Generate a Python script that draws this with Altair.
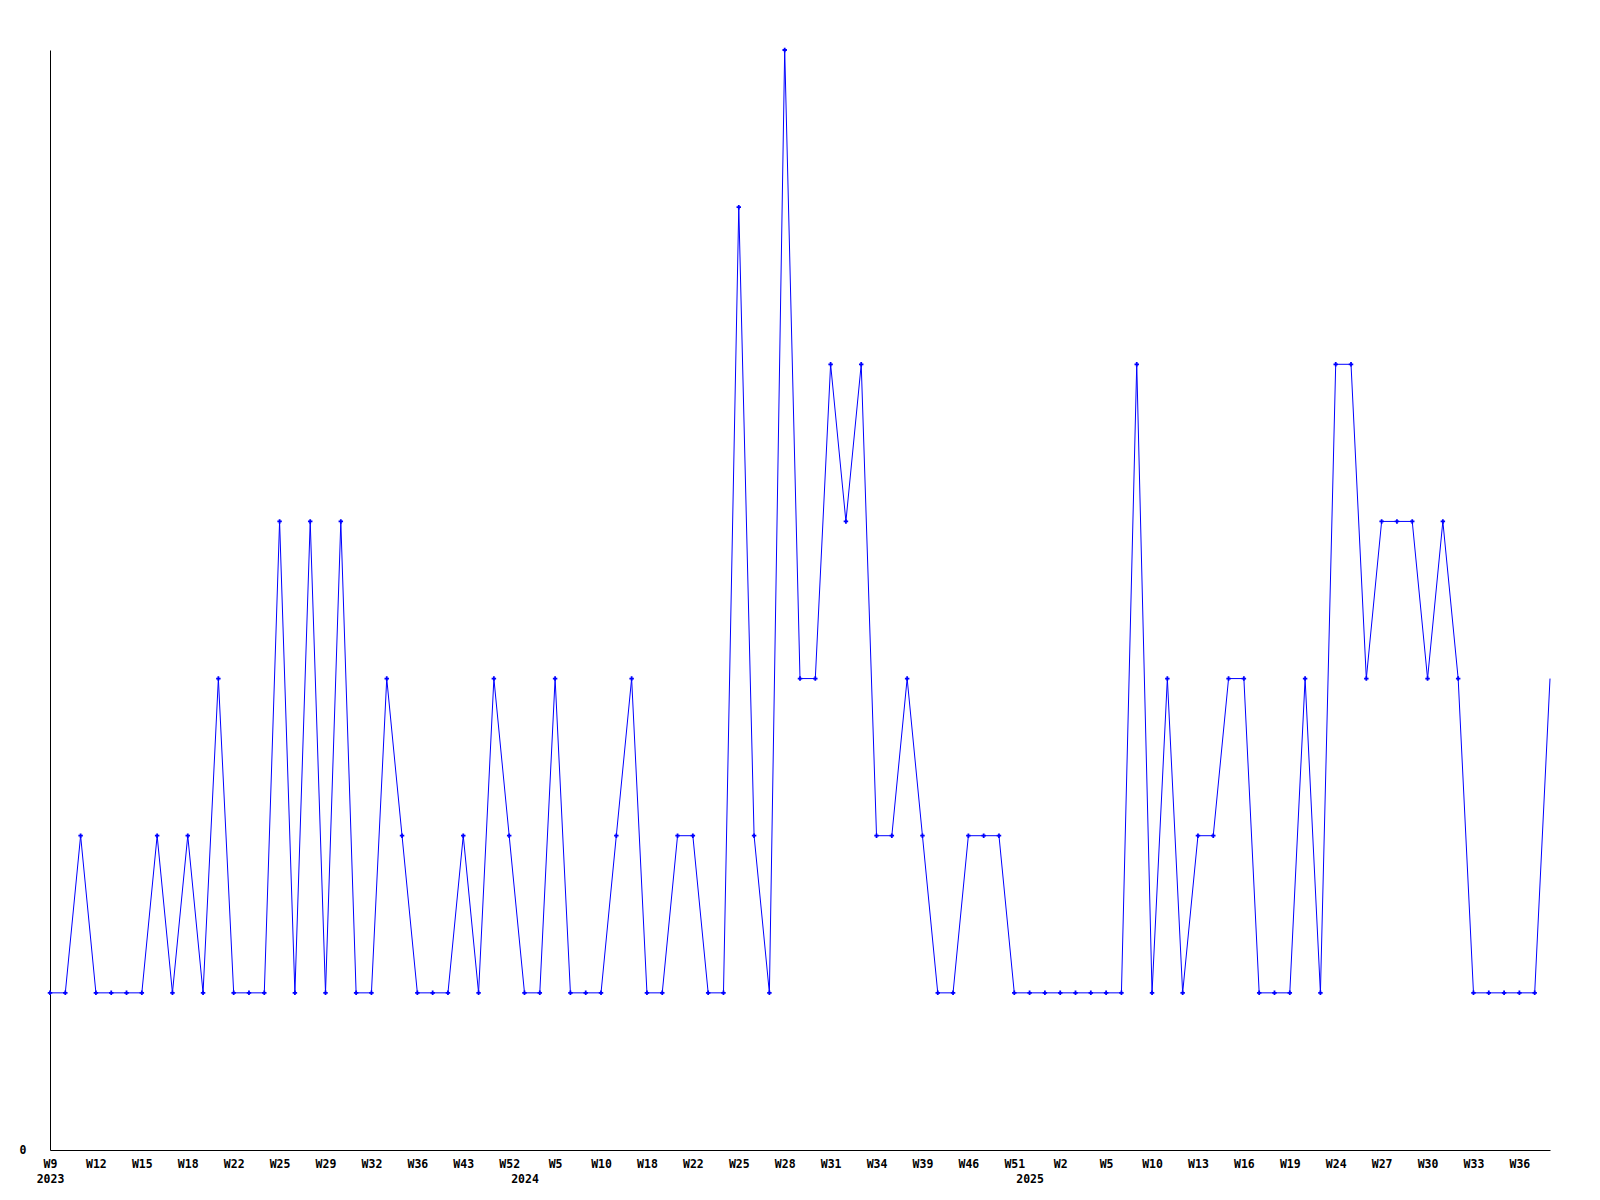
import altair as alt
import pandas as pd

weeks_2023 = ["W9", "W10", "W11", "W12", "W13", "W14", "W15", "W16", "W17", "W18",
              "W20", "W21", "W22", "W23", "W24", "W25", "W27", "W28", "W29", "W30",
              "W31", "W32", "W33", "W35", "W36", "W38", "W40", "W43", "W46", "W49", "W52"]
weeks_2024 = ["W1", "W3", "W5", "W7", "W8", "W10", "W13", "W15", "W18", "W20",
              "W21", "W22", "W23", "W24", "W25", "W26", "W27", "W28", "W29", "W30",
              "W31", "W32", "W33", "W34", "W36", "W37", "W39", "W41", "W43", "W46",
              "W48", "W50", "W51"]
weeks_2025 = ["W0", "W1", "W2", "W3", "W4", "W5", "W7", "W8", "W10", "W11",
              "W12", "W13", "W14", "W15", "W16", "W17", "W18", "W19", "W21", "W22",
              "W24", "W25", "W26", "W27", "W28", "W29", "W30", "W31", "W32", "W33",
              "W34", "W35", "W36", "W37", "W38"]

values = [1, 1, 2, 1, 1, 1, 1, 2, 1, 2,
          1, 3, 1, 1, 1, 4, 1, 4, 1, 4,
          1, 1, 3, 2, 1, 1, 1, 2, 1, 3,
          2, 1, 1, 3, 1, 1, 1, 2, 3, 1,
          1, 2, 2, 1, 1, 6, 2, 1, 7, 3,
          3, 5, 4, 5, 2, 2, 3, 2, 1, 1,
          2, 2, 2, 1, 1, 1, 1, 1, 1, 1,
          1, 5, 1, 3, 1, 2, 2, 3, 3, 1,
          1, 1, 3, 1, 5, 5, 3, 4, 4, 4,
          3, 4, 3, 1, 1, 1, 1, 1, 3]

weeks = weeks_2023 + weeks_2024 + weeks_2025
years = [2023] * len(weeks_2023) + [2024] * len(weeks_2024) + [2025] * len(weeks_2025)

rows = []
prev_year = None
for i, (w, y, v) in enumerate(zip(weeks, years, values)):
    ylab = str(y) if y != prev_year else ""
    prev_year = y
    rows.append({"idx": i, "key": f"{i}|{w}|{ylab}", "value": v})
df = pd.DataFrame(rows)
keys = list(df["key"])
last_idx = len(values) - 1

label_expr = ("[(toNumber(split(datum.value,'|')[0]) % 3 == 0) ? split(datum.value,'|')[1] : '', "
              "split(datum.value,'|')[2]]")

x_enc = alt.X(
    "key:O",
    sort=keys,
    scale=alt.Scale(type="point", padding=0),
    axis=alt.Axis(
        title=None, labelExpr=label_expr, labelAngle=0, ticks=False,
        labelPadding=8, labelOverlap=False, labelBound=False, labelFlush=False,
        labelFont="DejaVu Sans Mono", labelFontWeight="bold", labelFontSize=11.5,
        labelColor="black", labelLineHeight=15, labelBaseline="top",
        domainColor="black", domainWidth=1, grid=False,
    ),
)
y_enc = alt.Y(
    "value:Q",
    scale=alt.Scale(domain=[0, 7], nice=False, zero=True),
    axis=alt.Axis(
        title=None, values=[0], ticks=False, grid=False, labelPadding=24,
        labelFont="DejaVu Sans Mono", labelFontWeight="bold", labelFontSize=11.5,
        labelColor="black", domainColor="black", domainWidth=1,
    ),
)

base = alt.Chart(df)
line = base.mark_line(color="#0000ff", strokeWidth=1).encode(x=x_enc, y=y_enc)
pts = base.mark_point(shape="cross", filled=True, color="#0000ff", size=20, opacity=1).encode(
    x=x_enc, y=y_enc
).transform_filter(alt.datum.idx < last_idx)

chart = alt.layer(line, pts).properties(
    width=1500, height=1100,
    background="white",
    autosize=alt.AutoSizeParams(type="none"),
    padding={"left": 42, "top": 42, "right": 42, "bottom": 42},
).configure_view(stroke=None, strokeWidth=0)

chart.save("out.html", embed_options={"renderer": "svg", "actions": False})
